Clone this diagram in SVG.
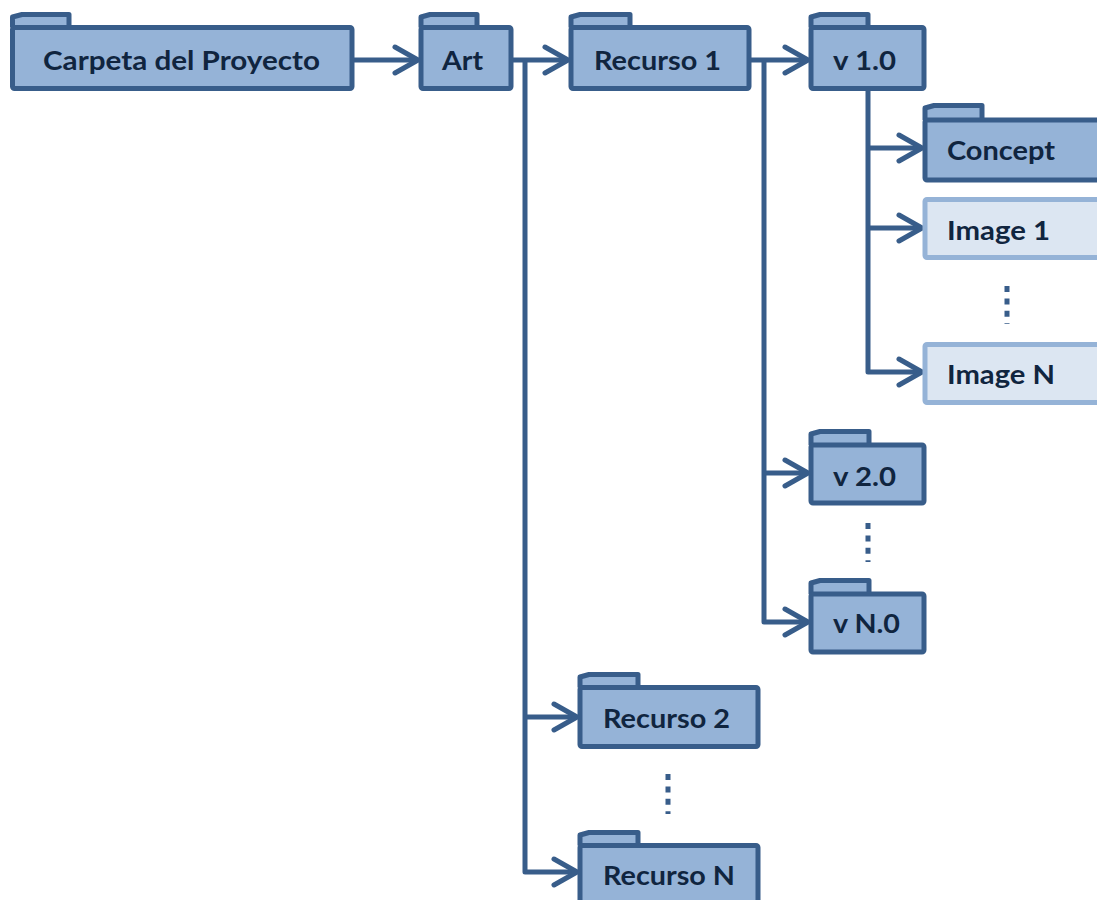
<svg xmlns="http://www.w3.org/2000/svg" width="1097" height="900" viewBox="0 0 1097 900">
  <style>
    .box { fill: #95b3d7; stroke: #385d8a; stroke-width: 5; stroke-linejoin: round; }
    .tab { fill: #95b3d7; stroke: #385d8a; stroke-width: 5; stroke-linejoin: round; }
    .file { fill: #dce6f2; stroke: #95b3d7; stroke-width: 5; stroke-linejoin: round; }
    .lbl { font-family: Lato, "Open Sans", "Liberation Sans", sans-serif; font-weight: bold; font-size: 27px; fill: #10253f; }
    .wire { fill: none; stroke: #385d8a; stroke-width: 5; stroke-linejoin: round; }
    .dots { fill: none; stroke: #385d8a; stroke-width: 5; stroke-dasharray: 6 6.4; }
  </style>
  <defs>
    <marker id="chevron" markerUnits="userSpaceOnUse" markerWidth="34" markerHeight="36" viewBox="-28 -18 34 36" refX="0" refY="0" orient="auto">
      <path d="M-23,-13 L0,0 L-23,13" fill="none" stroke="#385d8a" stroke-width="5" stroke-linecap="round" stroke-linejoin="round"/>
    </marker>
  </defs>

  <!-- connectors -->
  <g id="connectors">
    <path class="wire" d="M352,60 H418" marker-end="url(#chevron)"/>
    <path class="wire" d="M511,60 H568" marker-end="url(#chevron)"/>
    <path class="wire" d="M525,60 V872 H577" marker-end="url(#chevron)"/>
    <path class="wire" d="M525,717 H577" marker-end="url(#chevron)"/>
    <path class="wire" d="M749,60 H808" marker-end="url(#chevron)"/>
    <path class="wire" d="M764,60 V622 H808" marker-end="url(#chevron)"/>
    <path class="wire" d="M764,473 H808" marker-end="url(#chevron)"/>
    <path class="wire" d="M868,88 V372 H922" marker-end="url(#chevron)"/>
    <path class="wire" d="M868,148 H922" marker-end="url(#chevron)"/>
    <path class="wire" d="M868,228 H922" marker-end="url(#chevron)"/>
    <path class="dots" d="M1007,286 V324"/>
    <path class="dots" d="M868,523 V562"/>
    <path class="dots" d="M668,774 V814"/>
  </g>

  <g id="carpeta">
    <path class="tab" d="M12.5,27.5 V17 L22,14.5 H69 V27.5"/>
    <rect class="box" x="12.5" y="27.5" width="339.5" height="61" rx="2"/>
    <text class="lbl" x="43" y="70" textLength="277" lengthAdjust="spacingAndGlyphs">Carpeta del Proyecto</text>
  </g>

  <g id="art">
    <path class="tab" d="M421,27.5 V17 L430,14.5 H477 V27.5"/>
    <rect class="box" x="421" y="27.5" width="90" height="61" rx="2"/>
    <text class="lbl" x="442" y="70" textLength="41" lengthAdjust="spacingAndGlyphs">Art</text>
  </g>

  <g id="recurso-1">
    <path class="tab" d="M571,27.5 V17 L580,14.5 H630 V27.5"/>
    <rect class="box" x="571" y="27.5" width="178" height="61" rx="2"/>
    <text class="lbl" x="594" y="70" textLength="127" lengthAdjust="spacingAndGlyphs">Recurso 1</text>
  </g>

  <g id="v1">
    <path class="tab" d="M811,27.5 V17 L820,14.5 H868 V27.5"/>
    <rect class="box" x="811" y="27.5" width="113" height="61" rx="2"/>
    <text class="lbl" x="833" y="70" textLength="63" lengthAdjust="spacingAndGlyphs">v 1.0</text>
  </g>

  <g id="concept">
    <path class="tab" d="M925,120 V108 L934,105.5 H982 V120"/>
    <rect class="box" x="925" y="120" width="190" height="60" rx="2"/>
    <text class="lbl" x="947" y="160" textLength="108" lengthAdjust="spacingAndGlyphs">Concept</text>
  </g>

  <g id="image-1">
    <rect class="file" x="925" y="199.5" width="190" height="58" rx="2"/>
    <text class="lbl" x="947" y="240" textLength="103" lengthAdjust="spacingAndGlyphs">Image 1</text>
  </g>

  <g id="image-n">
    <rect class="file" x="925" y="344.5" width="190" height="58" rx="2"/>
    <text class="lbl" x="947" y="384" textLength="108" lengthAdjust="spacingAndGlyphs">Image N</text>
  </g>

  <g id="v2">
    <path class="tab" d="M811,445 V434 L820,431.5 H869 V445"/>
    <rect class="box" x="811" y="445" width="113" height="58" rx="2"/>
    <text class="lbl" x="833" y="486" textLength="63" lengthAdjust="spacingAndGlyphs">v 2.0</text>
  </g>

  <g id="vn">
    <path class="tab" d="M811,594 V583 L820,580.5 H869 V594"/>
    <rect class="box" x="811" y="594" width="113" height="58" rx="2"/>
    <text class="lbl" x="833" y="633" textLength="67" lengthAdjust="spacingAndGlyphs">v N.0</text>
  </g>

  <g id="recurso-2">
    <path class="tab" d="M580,687.5 V677 L589,674.5 H638 V687.5"/>
    <rect class="box" x="580" y="687.5" width="178" height="59" rx="2"/>
    <text class="lbl" x="603" y="728" textLength="127" lengthAdjust="spacingAndGlyphs">Recurso 2</text>
  </g>

  <g id="recurso-n">
    <path class="tab" d="M580,845.5 V835 L589,832.5 H638 V845.5"/>
    <rect class="box" x="580" y="845.5" width="178" height="70" rx="2"/>
    <text class="lbl" x="603" y="885" textLength="132" lengthAdjust="spacingAndGlyphs">Recurso N</text>
  </g>
</svg>
